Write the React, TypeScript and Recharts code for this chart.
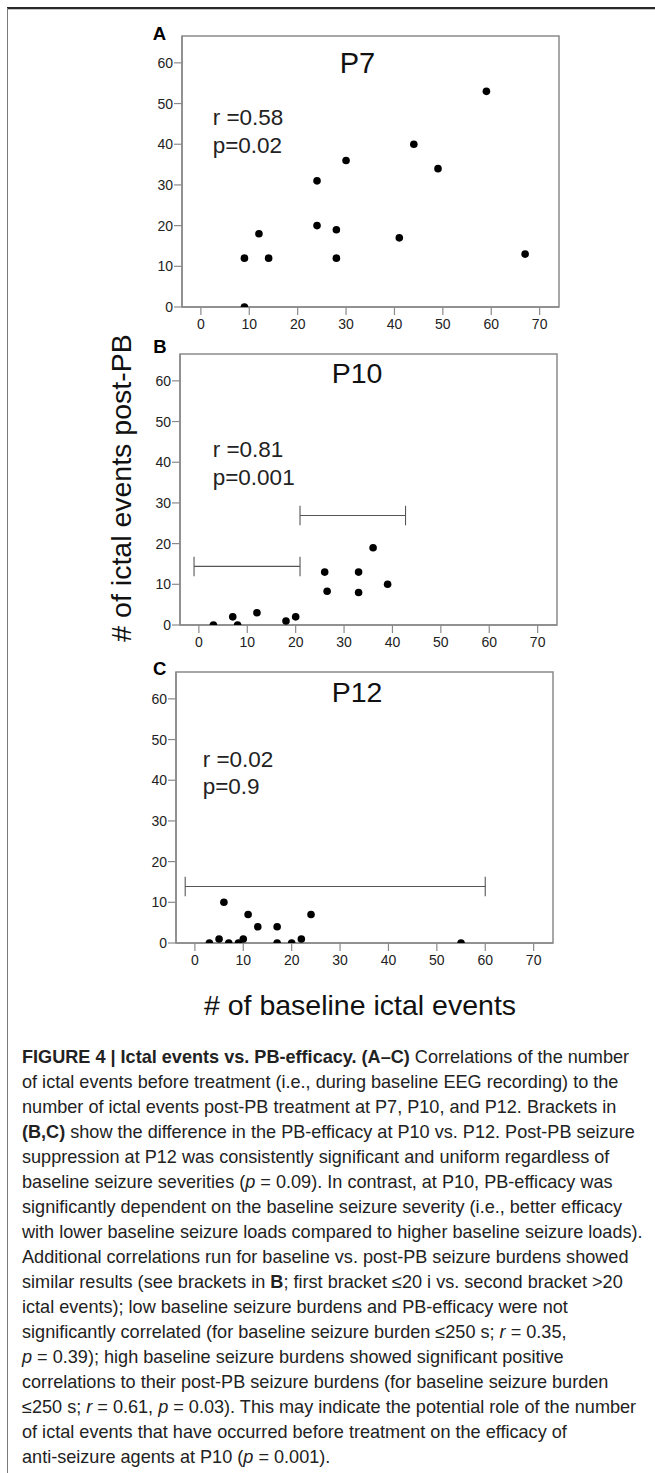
import { ScatterChart, Scatter, XAxis, YAxis, ReferenceArea, ReferenceLine } from 'recharts';

const X_TICKS = [0, 10, 20, 30, 40, 50, 60, 70];
const Y_TICKS = [0, 10, 20, 30, 40, 50, 60];
const X_DOMAIN: [number, number] = [-3.9, 74];
const Y_DOMAIN: [number, number] = [0, 66.6];

// P7
const p7Baseline = [9, 9, 12, 14, 24, 24, 28, 28, 30, 41, 44, 49, 59, 67];
const p7PostPB = [12, 0, 18, 12, 31, 20, 19, 12, 36, 17, 40, 34, 53, 13];

// P10
const p10Baseline = [3, 7, 8, 12, 18, 20, 26, 26.5, 33, 33, 36, 39];
const p10PostPB = [0, 2, 0, 3, 1, 2, 13, 8.3, 13, 8, 19, 10];
const p10BracketFrom = [-1, 20.9];
const p10BracketTo = [20.9, 42.7];
const p10BracketLevel = [14.4, 26.9];

// P12
const p12Baseline = [3, 5, 6, 7, 9, 10, 11, 13, 17, 17, 20, 22, 24, 55];
const p12PostPB = [0, 1, 10, 0, 0, 1, 7, 4, 4, 0, 0, 1, 7, 0];
const p12BracketFrom = [-2];
const p12BracketTo = [60];
const p12BracketLevel = [13.9];

const BRACKET_CAP = 2.4;

// "|" at the end of a text part = italic
const captionLines: { bold?: string; text: string }[][] = [
  [{ bold: 'FIGURE 4 | Ictal events vs. PB-efficacy. (A–C)', text: ' Correlations of the number' }],
  [{ text: 'of ictal events before treatment (i.e., during baseline EEG recording) to the' }],
  [{ text: 'number of ictal events post-PB treatment at P7, P10, and P12. Brackets in' }],
  [{ bold: '(B,C)', text: ' show the difference in the PB-efficacy at P10 vs. P12. Post-PB seizure' }],
  [{ text: 'suppression at P12 was consistently significant and uniform regardless of' }],
  [{ text: 'baseline seizure severities (' }, { text: 'p|' }, { text: ' = 0.09). In contrast, at P10, PB-efficacy was' }],
  [{ text: 'significantly dependent on the baseline seizure severity (i.e., better efficacy' }],
  [{ text: 'with lower baseline seizure loads compared to higher baseline seizure loads).' }],
  [{ text: 'Additional correlations run for baseline vs. post-PB seizure burdens showed' }],
  [{ text: 'similar results (see brackets in ' }, { bold: 'B', text: '; first bracket ≤20 i vs. second bracket >20' }],
  [{ text: 'ictal events); low baseline seizure burdens and PB-efficacy were not' }],
  [{ text: 'significantly correlated (for baseline seizure burden ≤250 s; ' }, { text: 'r|' }, { text: ' = 0.35,' }],
  [{ text: 'p|' }, { text: ' = 0.39); high baseline seizure burdens showed significant positive' }],
  [{ text: 'correlations to their post-PB seizure burdens (for baseline seizure burden' }],
  [{ text: '≤250 s; ' }, { text: 'r|' }, { text: ' = 0.61, ' }, { text: 'p|' }, { text: ' = 0.03). This may indicate the potential role of the number' }],
  [{ text: 'of ictal events that have occurred before treatment on the efficacy of' }],
  [{ text: 'anti-seizure agents at P10 (' }, { text: 'p|' }, { text: ' = 0.001).' }],
];

const FONT = '"Liberation Sans", Arial, sans-serif';
const PLOT_W = 377;
const PLOT_H = 271;
const Y_AXIS_W = 44;
const X_AXIS_H = 34;
const M_TOP = 10;
const M_RIGHT = 10;

function toPoints(xs: number[], ys: number[]) {
  return xs.map((x, i) => ({ x, y: ys[i] }));
}

const dot = (props: any) => <circle cx={props.cx} cy={props.cy} r={3.8} fill="#000" />;

function Panel(props: {
  left: number;
  top: number;
  xs: number[];
  ys: number[];
  from?: number[];
  to?: number[];
  level?: number[];
}) {
  const data = toPoints(props.xs, props.ys);
  const from = props.from || [];
  const tick = { fontSize: 14, fill: '#222', fontFamily: FONT };
  return (
    <div style={{ position: 'absolute', left: props.left - Y_AXIS_W, top: props.top - M_TOP }}>
      <ScatterChart
        width={Y_AXIS_W + PLOT_W + M_RIGHT}
        height={M_TOP + PLOT_H + X_AXIS_H}
        margin={{ top: M_TOP, right: M_RIGHT, left: 0, bottom: 0 }}
      >
        <XAxis
          type="number"
          dataKey="x"
          domain={X_DOMAIN}
          ticks={X_TICKS}
          allowDataOverflow
          height={X_AXIS_H}
          tick={tick}
          tickSize={8}
          tickMargin={4}
          axisLine={{ stroke: '#8a8a8a', strokeWidth: 1.5 }}
          tickLine={{ stroke: '#8a8a8a', strokeWidth: 1.2 }}
        />
        <YAxis
          type="number"
          dataKey="y"
          domain={Y_DOMAIN}
          ticks={Y_TICKS}
          allowDataOverflow
          width={Y_AXIS_W}
          tick={tick}
          tickSize={8}
          tickMargin={1}
          axisLine={{ stroke: '#8a8a8a', strokeWidth: 1.5 }}
          tickLine={{ stroke: '#8a8a8a', strokeWidth: 1.2 }}
        />
        <ReferenceArea
          x1={X_DOMAIN[0]}
          x2={X_DOMAIN[1]}
          y1={Y_DOMAIN[0]}
          y2={Y_DOMAIN[1]}
          fill="none"
          fillOpacity={0}
          stroke="#8a8a8a"
          strokeWidth={1.5}
          ifOverflow="visible"
        />
        {from.map((f, i) => (
          <ReferenceLine
            key={'h' + i}
            segment={[{ x: f, y: props.level![i] }, { x: props.to![i], y: props.level![i] }]}
            stroke="#555"
            strokeWidth={1.1}
            ifOverflow="visible"
          />
        ))}
        {from.map((f, i) => (
          <ReferenceLine
            key={'a' + i}
            segment={[{ x: f, y: props.level![i] - BRACKET_CAP }, { x: f, y: props.level![i] + BRACKET_CAP }]}
            stroke="#555"
            strokeWidth={1.1}
            ifOverflow="visible"
          />
        ))}
        {from.map((f, i) => (
          <ReferenceLine
            key={'b' + i}
            segment={[
              { x: props.to![i], y: props.level![i] - BRACKET_CAP },
              { x: props.to![i], y: props.level![i] + BRACKET_CAP },
            ]}
            stroke="#555"
            strokeWidth={1.1}
            ifOverflow="visible"
          />
        ))}
        <Scatter data={data} shape={dot} isAnimationActive={false} />
      </ScatterChart>
    </div>
  );
}

function CaptionLine(props: { parts: { bold?: string; text: string }[] }) {
  return (
    <div style={{ whiteSpace: 'nowrap', height: 25 }}>
      {props.parts.map((p, i) => {
        const italic = p.text.endsWith('|');
        return (
          <span key={i}>
            {p.bold ? <b>{p.bold}</b> : null}
            {italic ? <i>{p.text.slice(0, -1)}</i> : p.text}
          </span>
        );
      })}
    </div>
  );
}

export default function App() {
  return (
    <div style={{ position: 'absolute', left: 0, top: 0, width: 655, height: 1473, background: '#fff', fontFamily: FONT }}>
      <div style={{ position: 'absolute', left: 7, top: 7.4, width: 648, height: 1.8, background: '#2a2a2a' }} />
      <div style={{ position: 'absolute', left: 7, top: 9.2, width: 648, height: 0.8, background: '#c4c4c4' }} />
      <div style={{ position: 'absolute', left: 6.8, top: 8, width: 1.6, height: 1465, background: '#7a7a7a' }} />

      <Panel left={182.3} top={35.7} xs={p7Baseline} ys={p7PostPB} />
      <Panel
        left={180}
        top={354}
        xs={p10Baseline}
        ys={p10PostPB}
        from={p10BracketFrom}
        to={p10BracketTo}
        level={p10BracketLevel}
      />
      <Panel
        left={176}
        top={672}
        xs={p12Baseline}
        ys={p12PostPB}
        from={p12BracketFrom}
        to={p12BracketTo}
        level={p12BracketLevel}
      />

      <svg
        width={655}
        height={1040}
        style={{ position: 'absolute', left: 0, top: 0, pointerEvents: 'none' }}
        fontFamily={FONT}
      >
        <text x={152.7} y={40} fontSize={18.5} fontWeight="bold" fill="#000">A</text>
        <text x={153.3} y={352.7} fontSize={18.5} fontWeight="bold" fill="#000">B</text>
        <text x={153} y={675} fontSize={18.5} fontWeight="bold" fill="#000">C</text>

        <text x={357.5} y={72.7} fontSize={29} textAnchor="middle" fill="#111">P7</text>
        <text x={357} y={383.3} fontSize={28.5} textAnchor="middle" fill="#111">P10</text>
        <text x={357} y={701.7} fontSize={28.5} textAnchor="middle" fill="#111">P12</text>

        <text x={212.7} y={125} fontSize={22.5} fill="#222">r =0.58</text>
        <text x={212.7} y={152.7} fontSize={22.5} fill="#222">p=0.02</text>
        <text x={212.7} y={456.7} fontSize={22.5} fill="#222">r =0.81</text>
        <text x={212.7} y={485} fontSize={22.5} fill="#222">p=0.001</text>
        <text x={202.7} y={766.7} fontSize={22.5} fill="#222">r =0.02</text>
        <text x={202.7} y={794.3} fontSize={22.5} fill="#222">p=0.9</text>

        <text
          x={0}
          y={0}
          transform="translate(121 488) rotate(-90)"
          fontSize={28.5}
          textAnchor="middle"
          dominantBaseline="central"
          fill="#111"
        >
          # of ictal events post-PB
        </text>
        <text x={360} y={1005} fontSize={28.5} textAnchor="middle" dominantBaseline="central" fill="#111">
          # of baseline ictal events
        </text>
      </svg>

      <div
        style={{
          position: 'absolute',
          left: 22,
          top: 1044.5,
          fontSize: 18.1,
          lineHeight: '25px',
          color: '#222',
        }}
      >
        {captionLines.map((parts, i) => (
          <CaptionLine key={i} parts={parts} />
        ))}
      </div>
    </div>
  );
}
